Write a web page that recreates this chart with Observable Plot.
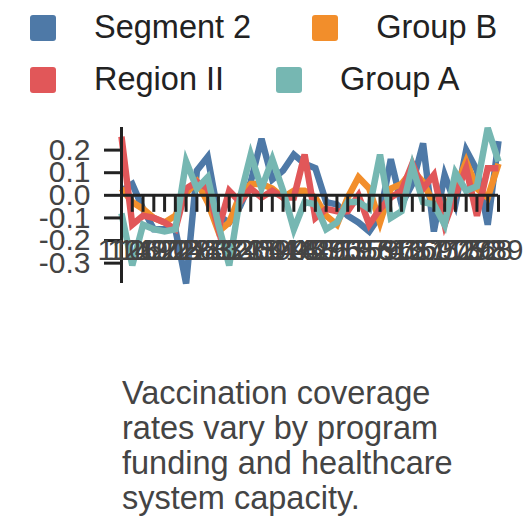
<!DOCTYPE html>
<html>
<head>
<meta charset="utf-8">
<script src="https://cdn.jsdelivr.net/npm/d3@7"></script>
<script src="https://cdn.jsdelivr.net/npm/@observablehq/plot@0.6"></script>
<style>
  body { margin: 0; background: #fff; font-family: "Liberation Sans", Arial, sans-serif; overflow: hidden; }
  #legend { height: 105px; position: relative; }
  .row { display: flex; align-items: center; position: absolute; left: 30px; }
  .item { display: flex; align-items: center; font-size: 32.5px; color: #222; }
  .sw { width: 26px; height: 26px; border-radius: 3px; margin-right: 38px; }
  #caption { margin: 21px 0 0 122px; width: 360px; font-size: 32.5px; line-height: 35px; color: #444; }
</style>
</head>
<body>
<div id="legend"></div>
<div id="chart"></div>
<div id="caption">Vaccination coverage rates vary by program funding and healthcare system capacity.</div>
<script>
// x tick labels (three-digit ids, heavily overlapped in the reference)
const xLabels = ["110","128","149","167","190","205","228","244","263","287","302","321","345","360","384","399","418","442","457","481","496","519","535","558","574","597","612","636","651","675","690","713","729","752","768","789"];
const seriesNames = ["Segment 2", "Group B", "Region II", "Group A"];
const seriesColors = ["#4e79a7", "#f28e2b", "#e15759", "#76b7b2"];

const segment2 = [0.02,0.05,-0.06,-0.15,-0.15,-0.15,-0.39,0.11,0.17,-0.09,-0.12,-0.05,0.06,0.25,0.07,0.11,0.18,0.14,0.12,-0.03,-0.04,-0.09,-0.12,-0.16,-0.09,0.16,-0.04,0.05,0.23,-0.16,0.09,-0.04,0.2,0.11,-0.13,0.24];
const groupB = [0.03,-0.03,-0.06,-0.1,-0.12,-0.09,0.01,0.06,-0.03,-0.16,-0.12,0.0,0.05,0.05,0.03,-0.01,0.02,0.02,-0.01,-0.09,-0.13,-0.01,0.08,0.03,-0.12,0.03,0.05,0.11,0.06,-0.04,-0.06,0.03,0.15,0.03,-0.01,0.14];
const regionII = [0.26,-0.13,-0.09,-0.1,-0.12,-0.15,0.03,0.06,0.03,-0.15,0.02,-0.03,0.03,-0.01,0.02,-0.01,-0.01,0.18,-0.1,-0.06,-0.07,-0.07,0.0,-0.13,-0.06,-0.01,0.02,0.14,0.03,0.09,-0.13,0.0,0.12,-0.09,0.12,0.12];
const groupA = [-0.08,-0.31,-0.13,-0.15,-0.16,-0.15,0.15,0.03,0.08,-0.13,-0.31,-0.01,0.18,0.03,0.16,0.02,-0.15,-0.03,-0.04,-0.15,-0.12,-0.03,-0.03,-0.06,0.18,-0.1,-0.07,0.13,-0.03,-0.04,-0.13,0.1,0.02,0.04,0.298,0.15];
const yTicks = [-0.3, -0.2, -0.1, 0, 0.1, 0.2];

const seriesValues = [segment2, groupB, regionII, groupA];
const table = [];
seriesValues.forEach((vals, s) => vals.forEach((v, i) => table.push({x: xLabels[i], value: v, series: seriesNames[s]})));

// legend
const legend = document.getElementById("legend");
const rows = [[0, 1, 61], [2, 3, 52]];
rows.forEach(([a, b, gap], r) => {
  const row = document.createElement("div");
  row.className = "row";
  row.style.top = (r === 0 ? 9 : 61) + "px";
  [a, b].forEach((k, j) => {
    const it = document.createElement("div");
    it.className = "item";
    if (j === 0) it.style.marginRight = gap + "px";
    const sw = document.createElement("div");
    sw.className = "sw";
    sw.style.background = seriesColors[k];
    const tx = document.createElement("span");
    tx.textContent = seriesNames[k];
    it.append(sw, tx);
    row.append(it);
  });
  legend.append(row);
});

const fmt = d => d.toFixed(1);
const chart = Plot.plot({
  width: 528,
  height: 250,
  marginTop: 22,
  marginBottom: 72,
  marginLeft: 121,
  marginRight: 30,
  style: {fontFamily: "'Liberation Sans', Arial, sans-serif", background: "#fff"},
  x: {type: "point", domain: xLabels, padding: 0, round: false, label: null},
  y: {domain: [-0.39, 0.3], label: null},
  color: {domain: seriesNames, range: seriesColors},
  marks: [
    Plot.line(table, {x: "x", y: "value", stroke: "series", z: "series", strokeWidth: 6.5, strokeLinejoin: "miter", strokeLinecap: "butt", strokeMiterlimit: 4}),
    Plot.ruleY([0], {stroke: "#222", strokeWidth: 3}),
    Plot.ruleX([xLabels[0]], {stroke: "#222", strokeWidth: 3}),
    Plot.axisY({ticks: yTicks, tickFormat: fmt, label: null, tickSize: 17, tickPadding: 14, fontSize: 30, stroke: "#222", strokeWidth: 3, fill: "#444"}),
    Plot.axisX({y: 0, label: null, tickSize: 17, tickPadding: 26, fontSize: 30, stroke: "#222", strokeWidth: 3, fill: "#444"})
  ]
});
document.getElementById("chart").append(chart);
</script>
</body>
</html>
